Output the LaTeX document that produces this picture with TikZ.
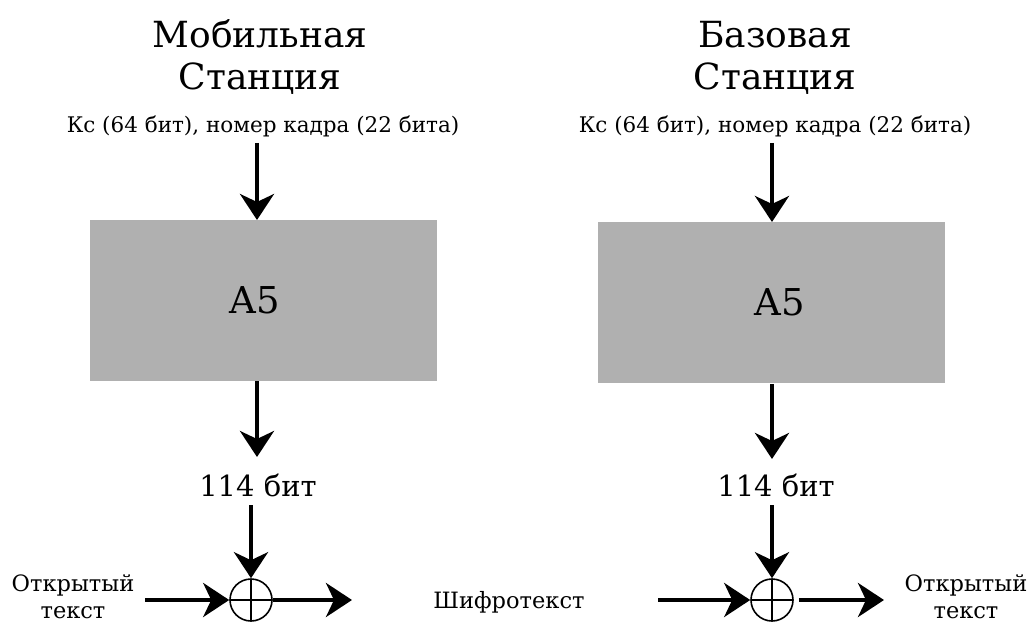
\documentclass[tikz,border=0pt]{standalone}
\usepackage{fontspec}
\setmainfont{DejaVu Serif}
\usetikzlibrary{arrows.meta}
\definecolor{boxgray}{RGB}{176,176,176}
\tikzset{
  big/.style={font=\fontsize{36}{40}\selectfont, inner sep=0pt, anchor=base},
  keytext/.style={font=\fontsize{21.5}{24}\selectfont, inner sep=0pt, anchor=base},
  midtext/.style={font=\fontsize{29}{32}\selectfont, inner sep=0pt, anchor=base},
  sidetext/.style={font=\fontsize{22.5}{25}\selectfont, inner sep=0pt, anchor=base},
  cipherbox/.style={draw=none, fill=boxgray, minimum width=347pt, minimum height=161pt, inner sep=0pt},
  boxlabel/.style={font=\fontsize{37}{40}\selectfont, inner sep=0pt},
  xorop/.style={circle, draw, line width=1.6pt, minimum size=42pt, inner sep=0pt,
    path picture={\draw[line width=1.6pt] (path picture bounding box.north) -- (path picture bounding box.south)
      (path picture bounding box.west) -- (path picture bounding box.east);}},
  flow/.style={line width=4pt, -{Stealth[length=26pt, width=34pt, inset=8pt]}},
}
\begin{document}
\begin{tikzpicture}[x=1pt, y=-1pt]
  \useasboundingbox (0,0) rectangle (1031,623);

  % ---- mobile station ----
  \node[big] (ms1) at (260,48) {Мобильная};
  \node[big] (ms2) at (260,90) {Станция};
  \node[keytext] (mskey) at (263,133) {Кс (64 бит), номер кадра (22 бита)};
  \node[cipherbox] (msa5) at (263.5,300.5) {};
  \node[boxlabel] (msa5lbl) at (255,300) {A5};
  \node[midtext] (msbits) at (258,496) {114 бит};
  \node[xorop] (msxor) at (251,600) {};
  \node[sidetext] (msin1) at (73,591) {Открытый};
  \node[sidetext] (msin2) at (73,618) {текст};
  \coordinate (msinstart) at (145,600);
  \coordinate (msoutend) at (352,600);

  \draw[flow] (257,143) -- (257,220);
  \draw[flow] (257,381) -- (257,457);
  \draw[flow] (251,505) -- (msxor.north);
  \draw[flow] (msinstart) -- (msxor.west);
  \draw[flow] (msxor.east) -- (msoutend);

  % ---- ciphertext on the air ----
  \node[sidetext] (air) at (509,608) {Шифротекст};

  % ---- base station ----
  \node[big] (bs1) at (775,48) {Базовая};
  \node[big] (bs2) at (775,90) {Станция};
  \node[keytext] (bskey) at (775,133) {Кс (64 бит), номер кадра (22 бита)};
  \node[cipherbox] (bsa5) at (771,302.5) {};
  \node[boxlabel] (bsa5lbl) at (780,302) {A5};
  \node[midtext] (bsbits) at (776,496) {114 бит};
  \node[xorop] (bsxor) at (772,600) {};
  \node[sidetext] (bsout1) at (966,591) {Открытый};
  \node[sidetext] (bsout2) at (966,618) {текст};
  \coordinate (bsinstart) at (658,600);
  \coordinate (bsoutend) at (884,600);

  \draw[flow] (772,143) -- (772,222);
  \draw[flow] (772,384) -- (772,459);
  \draw[flow] (772,505) -- (bsxor.north);
  \draw[flow] (bsinstart) -- (bsxor.west);
  \draw[flow] ([xshift=5pt]bsxor.east) -- (bsoutend);
\end{tikzpicture}
\end{document}
